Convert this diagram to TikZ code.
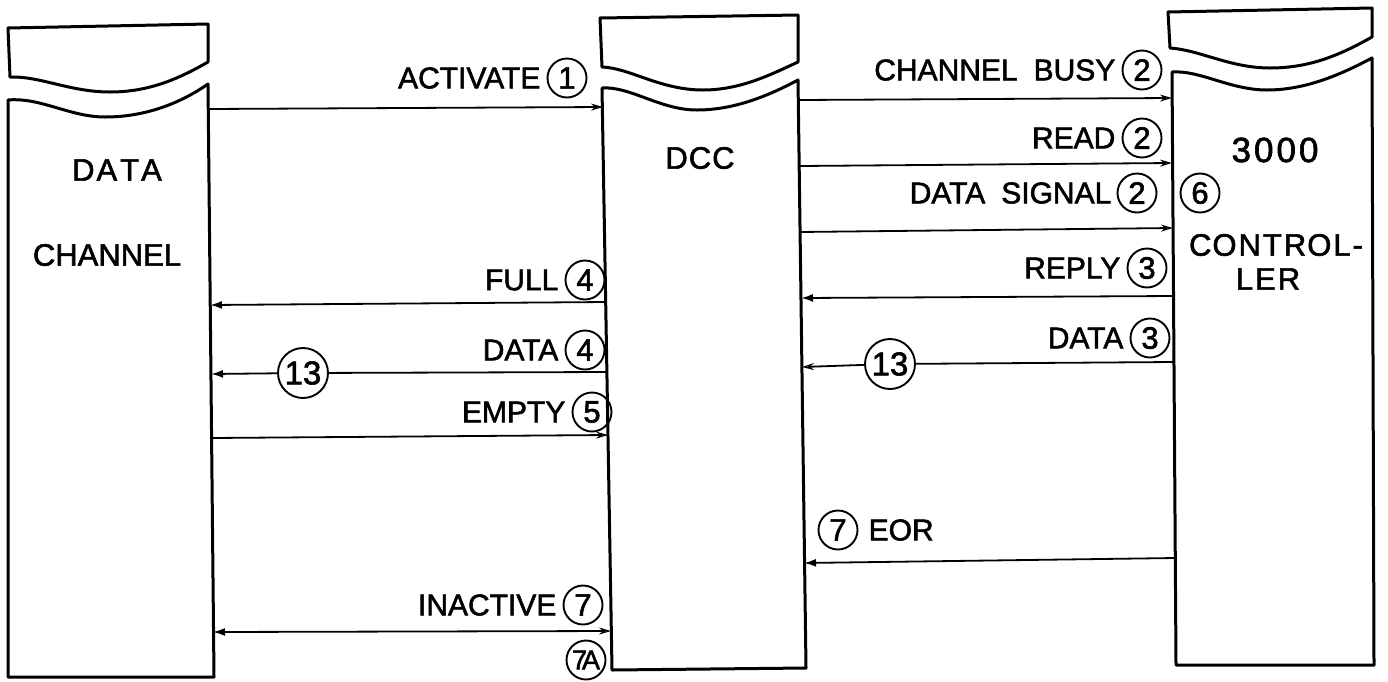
\documentclass[tikz,border=0pt]{standalone}
\usepackage{fontspec}
\setmainfont{Liberation Sans}[UprightFeatures={FakeBold=1.8}]
\usetikzlibrary{arrows.meta}
\begin{document}
\begin{tikzpicture}[x=1pt,y=-1pt,
  col/.style={line width=3pt, line join=round},
  sig/.style={line width=1.8pt},
  fwd/.style={sig,-{Stealth[open,length=12pt,width=7pt,line width=1.3pt]}},
  back/.style={sig,-{Latex[length=12pt,width=8pt]}},
  lbl/.style={font=\fontsize{30}{30}\selectfont, inner sep=0pt},
  ttl/.style={font=\fontsize{31}{31}\selectfont, inner sep=0pt},
  num/.style={circle,draw,line width=1.9pt,minimum size=39pt,inner sep=0pt,font=\fontsize{31}{31}\selectfont},
  bignum/.style={num,minimum size=50pt,font=\fontsize{33}{33}\selectfont}]
\useasboundingbox (0,0) rectangle (1388,681);

% ---- columns ----
% left: data channel
\draw[col] (8,28) -- (208,24) -- (208,62) .. controls (180,78) and (150,92) .. (110,92)
  .. controls (70,92) and (40,76) .. (10,77) -- cycle;
\draw[col] (8,677) -- (8,100) .. controls (40,97) and (70,117) .. (105,117)
  .. controls (150,117) and (185,100) .. (208,84) -- (214,677) -- cycle;
% middle: DCC
\draw[col] (600,18) -- (798,15) -- (798,62) .. controls (770,75) and (740,90) .. (703,90)
  .. controls (660,90) and (630,68) .. (602,67) -- cycle;
\draw[col] (612,670) -- (602,88) .. controls (630,86) and (660,110) .. (697,110)
  .. controls (735,110) and (770,95) .. (798,80) -- (806,668) -- cycle;
% right: 3000 controller
\draw[col] (1168,12) -- (1372,8) -- (1372,37) .. controls (1340,55) and (1310,68) .. (1270,68)
  .. controls (1230,68) and (1200,50) .. (1170,48) -- cycle;
\draw[col] (1176,665) -- (1172,72) .. controls (1200,70) and (1230,90) .. (1267,90)
  .. controls (1305,90) and (1340,75) .. (1372,58) -- (1374,665) -- cycle;

% ---- column titles ----
\node[ttl] (tdata) at (117,170) {D\kern2pt A\kern3pt T\kern2pt A};
\node[ttl] (tchan) at (107,255) {CHANNEL};
\node[ttl] (tdcc) at (700,158) {D\kern1pt C\kern1pt C};
\node[ttl,font=\fontsize{35}{35}\selectfont] (t3000) at (1275,150) {3\kern3pt 0\kern3pt 0\kern3pt 0};
\node[ttl] (tctrl) at (1276,245) {C\kern1pt O\kern2pt N\kern2pt T\kern2pt R\kern1pt O\kern2pt L\kern2pt -};
\node[ttl] (tler) at (1268,279) {L\kern2pt E\kern2pt R};

% ---- arrow end points ----
\coordinate (L1) at (208,109);  \coordinate (D1) at (603,107);
\coordinate (D2) at (798,100);  \coordinate (C2) at (1172,98);
\coordinate (D3) at (799,166);  \coordinate (C3) at (1172,163);
\coordinate (D4) at (799,232);  \coordinate (C4) at (1173,228);
\coordinate (C5) at (1173,296); \coordinate (D5) at (801,298);
\coordinate (C6) at (1174,362); \coordinate (D6) at (802,367);
\coordinate (D7) at (606,302);  \coordinate (L7) at (210,305);
\coordinate (D8) at (607,372);  \coordinate (L8) at (211,374);
\coordinate (L9) at (211,438);  \coordinate (D9) at (608,435);
\coordinate (C10) at (1175,558);\coordinate (D10) at (804,563);
\coordinate (L11) at (213,632); \coordinate (D11) at (611,631);

% ---- circled numbers and labels ----
\node[num] (n1) at (567,78) {1};
\node[lbl,anchor=east] (lact) at ([xshift=-6pt]n1.west) {ACTIVATE};

\node[num] (n2a) at (1142,70) {2};
\node[lbl,anchor=east] (lbusy) at ([xshift=-6pt]n2a.west) {CHANNEL\hspace{16pt}BUSY};

\node[num] (n2b) at (1142,138) {2};
\node[lbl,anchor=east] (lread) at ([xshift=-6pt]n2b.west) {READ};

\node[num] (n2c) at (1137,193) {2};
\node[lbl,anchor=east] (lsig) at ([xshift=-5pt]n2c.west) {DATA\hspace{16pt}SIGNAL};
\node[num] (n6) at (1200,193) {6};

\node[num] (n3a) at (1147,268) {3};
\node[lbl,anchor=east] (lreply) at ([xshift=-6pt]n3a.west) {REPLY};

\node[num] (n3b) at (1150,338) {3};
\node[lbl,anchor=east] (ldata3) at ([xshift=-6pt]n3b.west) {DATA};
\node[bignum] (n13r) at (890,364) {13};

\node[num] (n4a) at (585,280) {4};
\node[lbl,anchor=east] (lfull) at ([xshift=-6pt]n4a.west) {FULL};

\node[num] (n4b) at (585,350) {4};
\node[lbl,anchor=east] (ldata4) at ([xshift=-6pt]n4b.west) {DATA};
\node[bignum] (n13l) at (303,373) {13};

\node[num] (n5) at (592,412) {5};
\node[lbl,anchor=east] (lempty) at ([xshift=-6pt]n5.west) {EMPTY};

\node[num] (n7a) at (838,530) {7};
\node[lbl,anchor=west] (leor) at ([xshift=10pt]n7a.east) {EOR};

\node[num] (n7b) at (583,605) {7};
\node[lbl,anchor=east] (linact) at ([xshift=-6pt]n7b.west) {INACTIVE};
\node[num,minimum size=39pt,font=\fontsize{27}{27}\selectfont] (n7c) at (586,660) {7\kern-5pt A};

% ---- signals ----
\draw[fwd] (L1) -- (D1);
\draw[fwd] (D2) -- (C2);
\draw[fwd] (D3) -- (C3);
\draw[fwd] (D4) -- (C4);
\draw[back] (C5) -- (D5);
\draw[sig] (C6) -- (n13r);
\draw[fwd] (n13r) -- (D6);
\draw[back] (D7) -- (L7);
\draw[sig] (D8) -- (n13l);
\draw[back] (n13l) -- (L8);
\draw[fwd] (L9) -- (D9);
\draw[back] (C10) -- (D10);
\draw[sig,{Latex[length=12pt,width=8pt]}-{Stealth[open,length=12pt,width=7pt,line width=1.3pt]}] (L11) -- (D11);
\end{tikzpicture}
\end{document}
